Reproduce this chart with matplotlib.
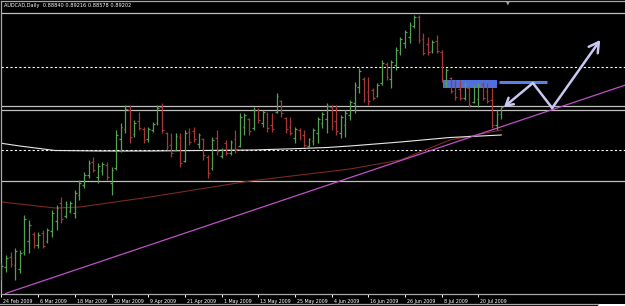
import matplotlib
matplotlib.use("Agg")
import matplotlib.pyplot as plt
import matplotlib.transforms as mtransforms
from matplotlib.patches import Rectangle
from matplotlib.lines import Line2D
import numpy as np

# --- data (AUDCAD daily, 24 Feb 2009 .. 27 Jul 2009) ---
OPEN = [0.8075, 0.8120, 0.8170, 0.8130, 0.8110, 0.8195, 0.8250, 0.8285, 0.8230, 0.8290,
        0.8250, 0.8300, 0.8350, 0.8440, 0.8375, 0.8400, 0.8390, 0.8480, 0.8530, 0.8580,
        0.8645, 0.8570, 0.8600, 0.8630, 0.8540, 0.8615, 0.8760, 0.8810, 0.8905, 0.8785,
        0.8850, 0.8810, 0.8760, 0.8805, 0.8840, 0.8920, 0.8790, 0.8730, 0.8705, 0.8770,
        0.8650, 0.8795, 0.8800, 0.8735, 0.8760, 0.8670, 0.8615, 0.8765, 0.8675, 0.8740,
        0.8690, 0.8760, 0.8725, 0.8820, 0.8860, 0.8815, 0.8905, 0.8840, 0.8885, 0.8830,
        0.8895, 0.8950, 0.8865, 0.8820, 0.8765, 0.8805, 0.8780, 0.8725, 0.8750, 0.8790,
        0.8840, 0.8860, 0.8920, 0.8850, 0.8790, 0.8830, 0.8880, 0.8940, 0.9020, 0.9060,
        0.8995, 0.9005, 0.8975, 0.9040, 0.9135, 0.9060, 0.9130, 0.9195, 0.9240, 0.9270,
        0.9325, 0.9370, 0.9260, 0.9235, 0.9200, 0.9250, 0.9195, 0.9040, 0.9065, 0.9030,
        0.9010, 0.8965, 0.9015, 0.8945, 0.8960, 0.9035, 0.9000, 0.8955, 0.8830, 0.88840]
HIGH = [0.8140, 0.8180, 0.8195, 0.8215, 0.8205, 0.8380, 0.8355, 0.8295, 0.8295, 0.8305,
        0.8315, 0.8405, 0.8430, 0.8470, 0.8450, 0.8450, 0.8505, 0.8555, 0.8595, 0.8655,
        0.8670, 0.8640, 0.8645, 0.8645, 0.8620, 0.8805, 0.8840, 0.8930, 0.8930, 0.8855,
        0.8895, 0.8820, 0.8820, 0.8845, 0.8930, 0.8940, 0.8795, 0.8790, 0.8790, 0.8790,
        0.8805, 0.8815, 0.8820, 0.8790, 0.8765, 0.8680, 0.8770, 0.8805, 0.8715, 0.8755,
        0.8755, 0.8805, 0.8890, 0.8890, 0.8865, 0.8920, 0.8915, 0.8905, 0.8895, 0.8890,
        0.8990, 0.8955, 0.8870, 0.8870, 0.8820, 0.8815, 0.8805, 0.8765, 0.8815, 0.8870,
        0.8895, 0.8940, 0.8930, 0.8930, 0.8880, 0.8905, 0.8955, 0.9045, 0.9115, 0.9070,
        0.9070, 0.9015, 0.9040, 0.9155, 0.9145, 0.9155, 0.9220, 0.9270, 0.9305, 0.9345,
        0.9380, 0.9380, 0.9290, 0.9270, 0.9255, 0.9280, 0.9205, 0.9115, 0.9070, 0.9055,
        0.9055, 0.9045, 0.9020, 0.9030, 0.9040, 0.9045, 0.9040, 0.9015, 0.8905, 0.89216]
LOW = [0.8055, 0.8095, 0.8120, 0.8055, 0.8090, 0.8180, 0.8190, 0.8215, 0.8215, 0.8215,
       0.8240, 0.8270, 0.8305, 0.8340, 0.8365, 0.8390, 0.8365, 0.8455, 0.8515, 0.8565,
       0.8595, 0.8540, 0.8580, 0.8555, 0.8480, 0.8605, 0.8695, 0.8790, 0.8740, 0.8770,
       0.8805, 0.8740, 0.8745, 0.8795, 0.8830, 0.8790, 0.8705, 0.8670, 0.8705, 0.8620,
       0.8645, 0.8730, 0.8745, 0.8715, 0.8655, 0.8565, 0.8605, 0.8680, 0.8665, 0.8680,
       0.8680, 0.8690, 0.8720, 0.8780, 0.8780, 0.8805, 0.8840, 0.8820, 0.8795, 0.8795,
       0.8890, 0.8870, 0.8790, 0.8780, 0.8740, 0.8755, 0.8720, 0.8715, 0.8730, 0.8740,
       0.8815, 0.8790, 0.8805, 0.8780, 0.8765, 0.8770, 0.8855, 0.8890, 0.8990, 0.8945,
       0.8930, 0.8955, 0.8970, 0.9030, 0.9055, 0.9015, 0.9105, 0.9180, 0.9215, 0.9240,
       0.9315, 0.9240, 0.9180, 0.9180, 0.9190, 0.9190, 0.9045, 0.9020, 0.8990, 0.8955,
       0.8955, 0.8955, 0.8920, 0.8940, 0.8920, 0.8955, 0.8940, 0.8815, 0.8805, 0.88578]
CLOSE = [0.8125, 0.8165, 0.8135, 0.8200, 0.8190, 0.8360, 0.8330, 0.8230, 0.8280, 0.8225,
         0.8305, 0.8390, 0.8415, 0.8360, 0.8435, 0.8440, 0.8490, 0.8540, 0.8580, 0.8640,
         0.8605, 0.8625, 0.8635, 0.8570, 0.8605, 0.8780, 0.8820, 0.8910, 0.8770, 0.8840,
         0.8815, 0.8755, 0.8810, 0.8835, 0.8915, 0.8805, 0.8720, 0.8690, 0.8775, 0.8640,
         0.8790, 0.8745, 0.8760, 0.8780, 0.8680, 0.8590, 0.8755, 0.8700, 0.8705, 0.8690,
         0.8745, 0.8705, 0.8870, 0.8880, 0.8800, 0.8905, 0.8855, 0.8895, 0.8815, 0.8810,
         0.8975, 0.8890, 0.8810, 0.8790, 0.8810, 0.8765, 0.8730, 0.8760, 0.8805, 0.8860,
         0.8885, 0.8925, 0.8825, 0.8800, 0.8870, 0.8890, 0.8945, 0.9030, 0.9100, 0.8960,
         0.8950, 0.8965, 0.9030, 0.9140, 0.9070, 0.9145, 0.9205, 0.9260, 0.9295, 0.9330,
         0.9370, 0.9255, 0.9190, 0.9195, 0.9245, 0.9200, 0.9060, 0.9105, 0.9000, 0.8970,
         0.8965, 0.9035, 0.8930, 0.9020, 0.9030, 0.8965, 0.8950, 0.8830, 0.8885, 0.89202]

TICK_IDX = [0, 8, 16, 24, 32, 40, 48, 56, 64, 72, 80, 88, 96, 104]
TICK_LABELS = ["24 Feb 2009", "6 Mar 2009", "18 Mar 2009", "30 Mar 2009", "9 Apr 2009",
               "21 Apr 2009", "1 May 2009", "13 May 2009", "25 May 2009", "4 Jun 2009",
               "16 Jun 2009", "26 Jun 2009", "8 Jul 2009", "20 Jul 2009"]

# horizontal levels drawn on the chart
SOLID_LEVELS = [0.9390, 0.8925, 0.8905, 0.8550]
DOTTED_LEVELS = [0.9120, 0.8705]

# moving averages (sampled along the bars)
MA_WHITE_I = [0, 4, 11.7, 21.5, 32.4, 43.3, 54.9, 65.1, 71, 76, 87, 97.8, 109]
MA_WHITE_P = [0.87385, 0.8725, 0.87025, 0.8700, 0.8700, 0.87025, 0.8705, 0.87125,
              0.87175, 0.8725, 0.8745, 0.87675, 0.8780]
MA_RED_I = [0, 11.7, 17.1, 32.4, 43.3, 54.2, 65.1, 76, 87, 97.8, 109]
MA_RED_P = [0.8445, 0.8415, 0.8420, 0.8470, 0.8510, 0.8550, 0.8580, 0.8610, 0.8655,
            0.8755, 0.8805]

# trendline anchors
TREND_I = [0, 130]
TREND_P = [0.7981, 0.8983]

# resistance box and line
BOX_I = [96.2, 108.1]
BOX_P = [0.90135, 0.9055]
RES_I = [108.6, 118.9]
RES_P = 0.90465

# projected path
PATH_I = [109.6, 115.9, 120.1, 130.6]
PATH_P = [0.8920, 0.9040, 0.8915, 0.9255]

TITLE = "AUDCAD,Daily  0.88840 0.89216 0.88578 0.89202"

# --- figure ---
W, H = 625, 306
fig = plt.figure(figsize=(W / 100, H / 100), dpi=100, facecolor="black")
ax = fig.add_axes([1 / W, 1 - 293.5 / H, 624 / W, 292.5 / H], facecolor="black")

idx = np.arange(len(OPEN))
o = np.array(OPEN); h = np.array(HIGH); l = np.array(LOW); c = np.array(CLOSE)
up = c >= o
cols = np.where(up, "#55a055", "#a83838")

# box sits behind the bars
ax.add_patch(Rectangle((BOX_I[0], BOX_P[0]), BOX_I[1] - BOX_I[0], BOX_P[1] - BOX_P[0],
                       facecolor="#4d70dc", edgecolor="none", zorder=1))

for lv in SOLID_LEVELS:
    ax.axhline(lv, color="#c0c0c0", lw=0.9, zorder=2)
for lv in DOTTED_LEVELS:
    ax.axhline(lv, color="white", lw=0.8, ls=(0, (2, 2)), zorder=2)

ax.plot(MA_RED_I, MA_RED_P, color="#7a2a22", lw=0.8, zorder=2)
ax.plot(MA_WHITE_I, MA_WHITE_P, color="#e8e8e8", lw=0.8, zorder=2)
ax.axline((TREND_I[0], TREND_P[0]), (TREND_I[1], TREND_P[1]), color="#c050c8", lw=0.9, zorder=2)

# OHLC bars
ax.vlines(idx, l, h, colors=cols, lw=0.9, zorder=3)
ax.hlines(o, idx - 0.38, idx, colors=cols, lw=0.9, zorder=3)
ax.hlines(c, idx, idx + 0.38, colors=cols, lw=0.9, zorder=3)

ax.plot(RES_I, [RES_P, RES_P], color="#5a80e6", lw=2.2, solid_capstyle="butt", zorder=4)

pc = "#c8c8f0"
ax.annotate("", xy=(PATH_I[0], PATH_P[0]), xytext=(PATH_I[1], PATH_P[1]),
            arrowprops=dict(arrowstyle="->,head_length=0.5,head_width=0.3", color=pc, lw=1.8,
                            shrinkA=0, shrinkB=0), zorder=5)
ax.plot(PATH_I[1:3], PATH_P[1:3], color=pc, lw=1.8, solid_capstyle="round", zorder=5)
ax.annotate("", xy=(PATH_I[3], PATH_P[3]), xytext=(PATH_I[2], PATH_P[2]),
            arrowprops=dict(arrowstyle="->,head_length=0.7,head_width=0.4", color=pc, lw=1.8,
                            shrinkA=0, shrinkB=0), zorder=5)

ax.set_xlim(-0.109, 135.99)
ax.set_ylim(0.9455 - 0.0005 * 293.5, 0.9455 - 0.0005 * 1)

ax.set_yticks([])
ax.set_xticks(TICK_IDX)
ax.set_xticklabels(TICK_LABELS, ha="left")
ax.tick_params(axis="x", direction="out", length=2.5, width=0.7, color="white",
               labelsize=3.4, labelcolor="white", pad=1.5)
offset = mtransforms.ScaledTranslation(2 / 100, 0, fig.dpi_scale_trans)
for lab in ax.get_xticklabels():
    lab.set_transform(lab.get_transform() + offset)

for side in ["left", "bottom", "top"]:
    ax.spines[side].set_color("#a8a8a8")
    ax.spines[side].set_linewidth(0.9)
ax.spines["right"].set_visible(False)

fig.text(4 / W, 1 - 5.5 / H, TITLE, color="white", fontsize=3.6, va="center", ha="left")
fig.text(508 / W, 1 - 2.5 / H, "\u25BC", color="#a0a0a0", fontsize=3.5, va="center", ha="center")

# window frame under the date axis
fig.add_artist(Line2D([0, 598 / W], [1 - 303.5 / H] * 2, color="#a8a8a8", lw=0.9))
fig.add_artist(Rectangle((598 / W, 0), 27 / W, 2 / H, facecolor="white", edgecolor="none"))

fig.savefig("out.png", dpi=100, facecolor="black")
